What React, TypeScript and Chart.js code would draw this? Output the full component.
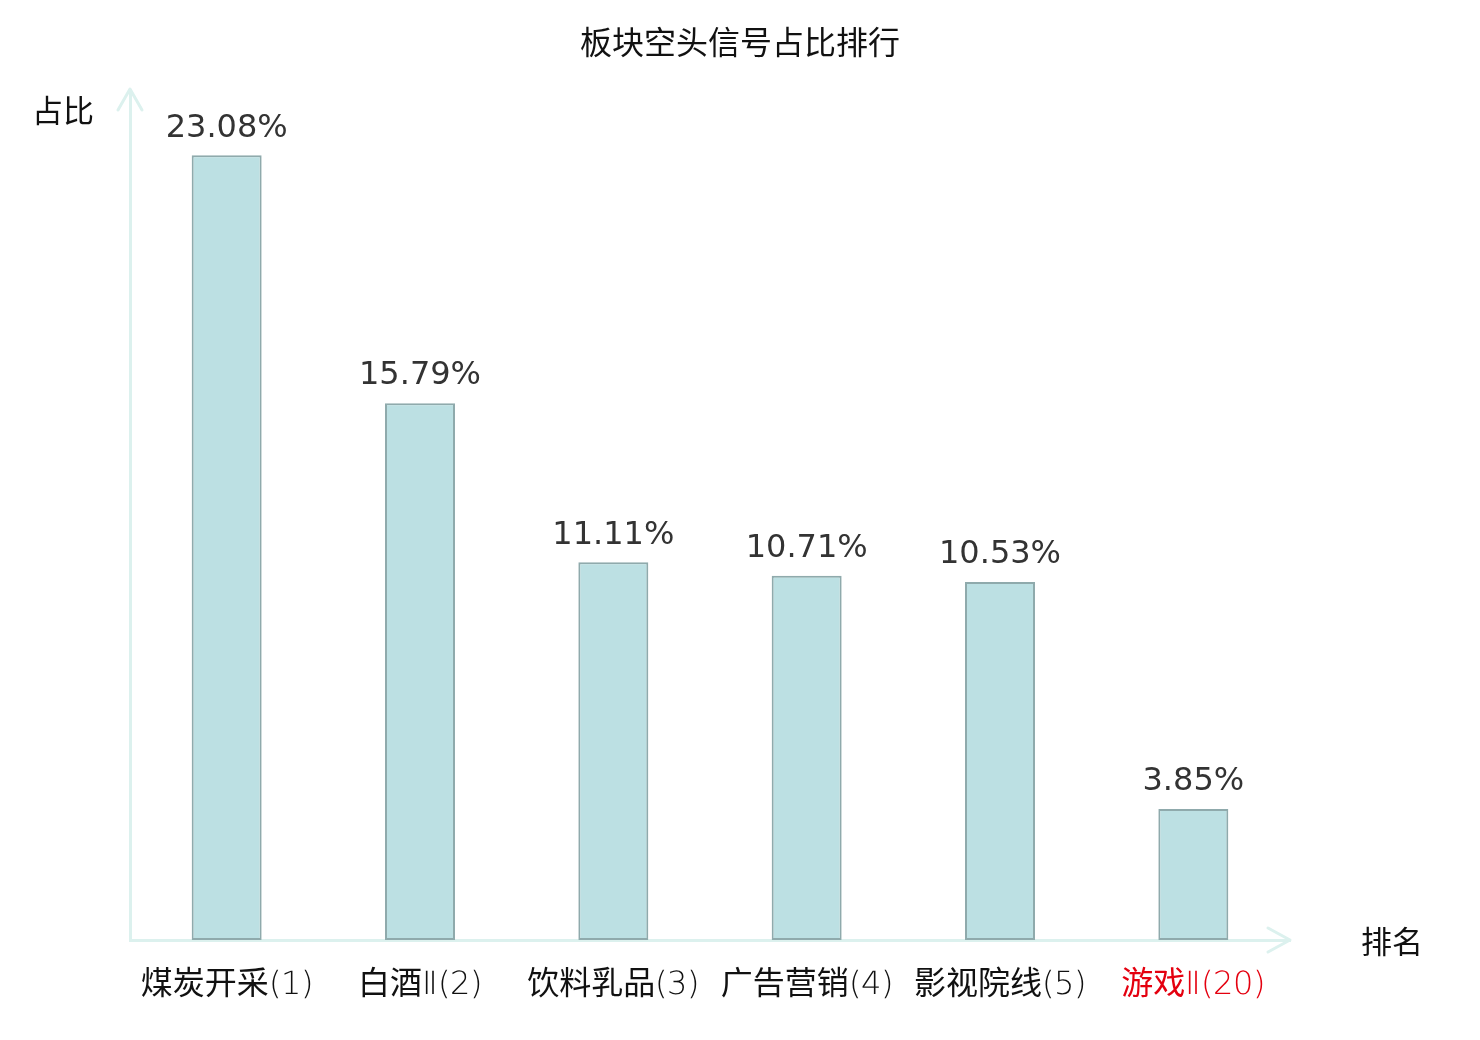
import React, { useEffect, useRef } from 'react';
import { Chart, registerables } from 'chart.js';

Chart.register(...registerables);

const categories = ['煤炭开采(1)', '白酒Ⅱ(2)', '饮料乳品(3)', '广告营销(4)', '影视院线(5)', '游戏Ⅱ(20)'];
const shares = [23.08, 15.79, 11.11, 10.71, 10.53, 3.85];
const highlightIndex = 5;

const cjk = '"Noto Sans CJK SC", "Noto Sans", sans-serif';
// thin latin glyphs (digits, brackets, roman numerals) + regular CJK
const labelFont = '"LabelLatin", "Noto Sans CJK SC", sans-serif';
const axisColor = '#dcf1ee';

const fontCss = `
@font-face {
  font-family: "LabelLatin";
  src: local("DejaVu Sans ExtraLight"), local("DejaVuSans-ExtraLight");
  unicode-range: U+0000-024F, U+2150-218F;
}
`;

const decorPlugin = {
    id: 'decor',
    afterDatasetsDraw(chart: any) {
        const { ctx } = chart;
        const meta = chart.getDatasetMeta(0);
        ctx.save();
        ctx.font = '32px "DejaVu Sans", sans-serif';
        ctx.fillStyle = '#333333';
        ctx.textAlign = 'center';
        ctx.textBaseline = 'middle';
        meta.data.forEach((bar: any, i: number) => {
            ctx.fillText(shares[i].toFixed(2) + '%', bar.x, bar.y - 27);
        });
        ctx.restore();
    },
    afterDraw(chart: any) {
        const { ctx, chartArea, width } = chart;
        const { left, right, top, bottom } = chartArea;
        ctx.save();
        ctx.strokeStyle = axisColor;
        ctx.lineWidth = 3;
        ctx.lineCap = 'round';
        ctx.lineJoin = 'round';
        ctx.beginPath();
        ctx.moveTo(left - 12, top + 20);
        ctx.lineTo(left, top - 1);
        ctx.lineTo(left + 12, top + 20);
        ctx.moveTo(right - 22, bottom - 12);
        ctx.lineTo(right, bottom);
        ctx.lineTo(right - 22, bottom + 12);
        ctx.stroke();

        ctx.fillStyle = '#111111';
        ctx.textBaseline = 'middle';
        ctx.textAlign = 'center';
        ctx.font = '32px ' + cjk;
        ctx.fillText('板块空头信号占比排行', width / 2, 42);
        ctx.font = '31px ' + cjk;
        ctx.fillText('占比', 63, 110);
        ctx.fillText('排名', 1392, 941);
        ctx.restore();
    },
};

const App: React.FC = () => {
    const chartRef = useRef<HTMLCanvasElement | null>(null);

    useEffect(() => {
        let chart: Chart | null = null;
        let cancelled = false;

        const build = () => {
            const ctx = chartRef.current?.getContext('2d');
            if (!ctx || cancelled) return;
            chart = new Chart(ctx, {
                type: 'bar',
                data: {
                    labels: categories,
                    datasets: [{
                        data: shares,
                        backgroundColor: '#bce0e3',
                        borderColor: '#8faaac',
                        borderWidth: 2,
                        borderSkipped: false,
                        categoryPercentage: 1,
                        barPercentage: 0.362,
                    }],
                },
                options: {
                    animation: false,
                    responsive: false,
                    maintainAspectRatio: false,
                    layout: { padding: { left: 0, right: 190, top: 90, bottom: 0 } },
                    plugins: {
                        legend: { display: false },
                        tooltip: { enabled: false },
                        title: { display: false },
                    },
                    scales: {
                        x: {
                            grid: { display: false, drawTicks: false },
                            border: { display: true, color: axisColor, width: 3 },
                            ticks: {
                                autoSkip: false,
                                maxRotation: 0,
                                padding: 26,
                                font: { family: labelFont, size: 32 },
                                color: (c: any) => (c.index === highlightIndex ? '#e4000f' : '#111111'),
                            },
                            afterFit: (scale: any) => { scale.height = 100; },
                        },
                        y: {
                            min: 0,
                            max: 25,
                            grid: { display: false, drawTicks: false },
                            border: { display: true, color: axisColor, width: 3 },
                            ticks: { display: false },
                            afterFit: (scale: any) => { scale.width = 130; },
                        },
                    },
                },
                plugins: [decorPlugin],
            });
        };

        document.fonts.load('32px "LabelLatin"', '(1)Ⅱ').then(build, build);

        return () => {
            cancelled = true;
            chart?.destroy();
        };
    }, []);

    return (
        <div style={{ position: 'fixed', left: 0, top: 0, width: 1480, height: 1040, background: '#ffffff' }}>
            <style>{fontCss}</style>
            <canvas ref={chartRef} width={1480} height={1040} style={{ width: 1480, height: 1040 }}></canvas>
        </div>
    );
};

export default App;
